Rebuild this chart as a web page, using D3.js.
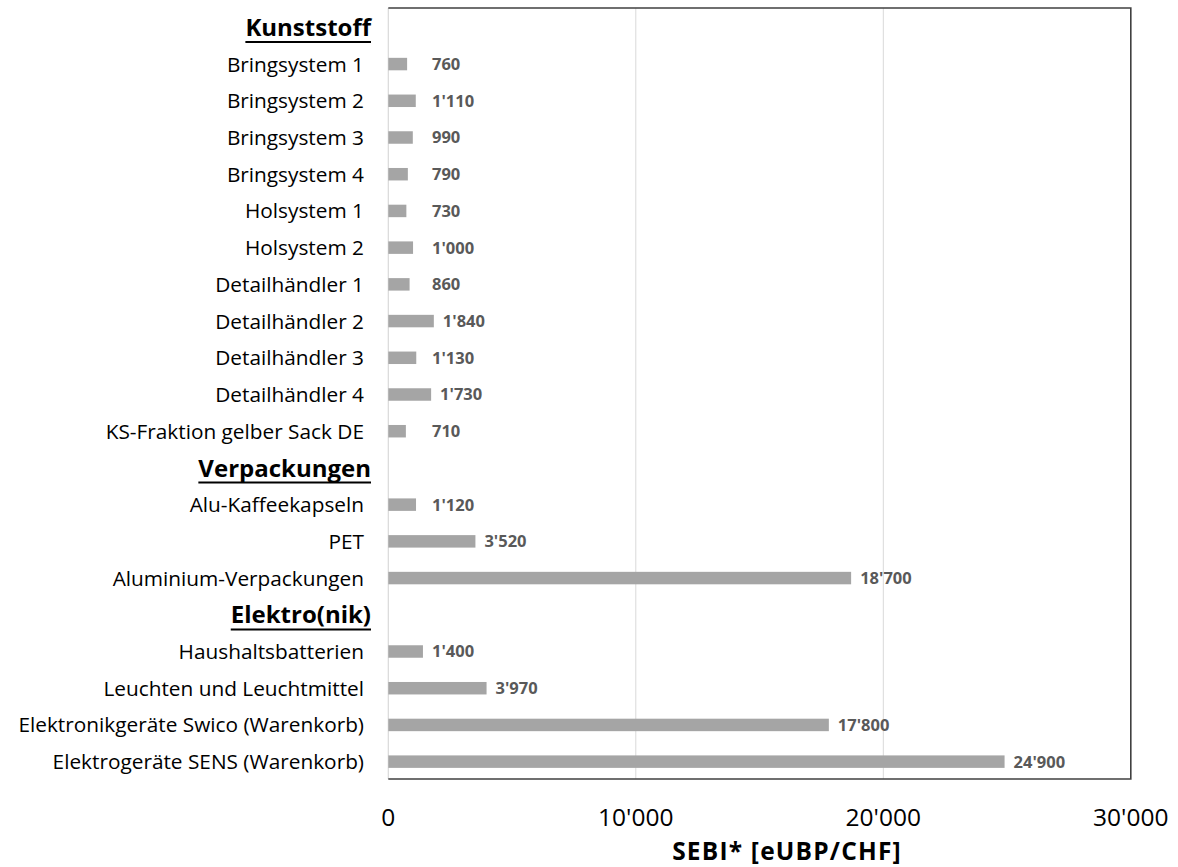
<!DOCTYPE html>
<html>
<head>
<meta charset="utf-8">
<script src="https://cdn.jsdelivr.net/npm/d3@7"></script>
<style>
  html, body { margin: 0; padding: 0; background: #fff; }
  svg { display: block; }
</style>
</head>
<body>
<svg id="chart" width="1178" height="867"></svg>
<script>
const categories = [
  "Kunststoff",
  "Bringsystem 1", "Bringsystem 2", "Bringsystem 3", "Bringsystem 4",
  "Holsystem 1", "Holsystem 2",
  "Detailhändler 1", "Detailhändler 2", "Detailhändler 3", "Detailhändler 4",
  "KS-Fraktion gelber Sack DE",
  "Verpackungen",
  "Alu-Kaffeekapseln", "PET", "Aluminium-Verpackungen",
  "Elektro(nik)",
  "Haushaltsbatterien", "Leuchten und Leuchtmittel",
  "Elektronikgeräte Swico (Warenkorb)", "Elektrogeräte SENS (Warenkorb)"
];
const values = [
  null,
  760, 1110, 990, 790,
  730, 1000,
  860, 1840, 1130, 1730,
  710,
  null,
  1120, 3520, 18700,
  null,
  1400, 3970, 17800, 24900
];
const groupHeaders = ["Kunststoff", "Verpackungen", "Elektro(nik)"];
const xTickValues = [0, 10000, 20000, 30000];
const xTitle = "SEBI* [eUBP/CHF]";

const svg = d3.select("#chart");
const mLeft = 388.3, mRight = 1130.8, mTop = 9, mBottom = 780;
const FONT = "'Open Sans', sans-serif";

const x = d3.scaleLinear().domain([0, 30000]).range([mLeft, mRight]);
const y = d3.scaleBand().domain(categories).range([mTop, mBottom]);
const fmt = v => d3.format(",")(v).replace(/,/g, "'");

// gridlines
svg.append("g").selectAll("line").data(xTickValues.filter(d => d > 0 && d < 30000))
  .join("line")
  .attr("x1", d => x(d)).attr("x2", d => x(d))
  .attr("y1", mTop - 1).attr("y2", mBottom - 1)
  .attr("stroke", "#d9d9d9").attr("stroke-width", 1);

// left axis line (light)
svg.append("line")
  .attr("x1", mLeft).attr("x2", mLeft).attr("y1", mTop - 1).attr("y2", mBottom - 1)
  .attr("stroke", "#d9d9d9").attr("stroke-width", 1.2);

// frame top/right/bottom
svg.append("path")
  .attr("d", `M${mLeft},${mTop - 1}H${mRight}V${mBottom - 1}H${mLeft}`)
  .attr("fill", "none").attr("stroke", "#404040").attr("stroke-width", 1.6);

// bars
const rows = categories.map((c, i) => ({ c, v: values[i] })).filter(d => d.v != null);
const bh = y.bandwidth() * 0.34;
svg.append("g").selectAll("rect").data(rows).join("rect")
  .attr("x", x(0))
  .attr("y", d => y(d.c) + y.bandwidth() / 2 - bh / 2)
  .attr("width", d => x(d.v) - x(0))
  .attr("height", bh)
  .attr("fill", "#a5a5a5");

// data labels
svg.append("g").selectAll("text").data(rows).join("text")
  .attr("x", d => Math.max(x(d.v) + 9, 432))
  .attr("y", d => y(d.c) + y.bandwidth() / 2)
  .attr("dy", "0.36em")
  .attr("font-family", FONT).attr("font-weight", "bold").attr("font-size", 16.5)
  .attr("fill", "#595959")
  .text(d => fmt(d.v));

// category labels
const catG = svg.append("g");
categories.forEach(c => {
  const isH = groupHeaders.includes(c);
  const fs = isH ? 24 : 20.8;
  const t = catG.append("text")
    .attr("x", isH ? 371 : 364)
    .attr("y", y(c) + y.bandwidth() / 2)
    .attr("dy", "0.36em")
    .attr("text-anchor", "end")
    .attr("font-family", FONT)
    .attr("font-size", fs)
    .attr("font-weight", isH ? "bold" : "normal")
    .attr("fill", "#000")
    .text(c);
  if (isH) {
    const w = t.node().getComputedTextLength();
    const by = y(c) + y.bandwidth() / 2 + fs * 0.36 + 6;
    catG.append("line")
      .attr("x1", 371 - w).attr("x2", 371)
      .attr("y1", by).attr("y2", by)
      .attr("stroke", "#000").attr("stroke-width", 2);
  }
});

// x tick labels
svg.append("g").selectAll("text").data(xTickValues).join("text")
  .attr("x", d => x(d)).attr("y", 826)
  .attr("text-anchor", "middle")
  .attr("font-family", FONT).attr("font-size", 24.5)
  .attr("fill", "#000")
  .text(d => fmt(d));

// axis title
svg.append("text")
  .attr("x", 787).attr("y", 860)
  .attr("text-anchor", "middle")
  .attr("font-family", FONT).attr("font-weight", "bold").attr("font-size", 24.5)
  .attr("letter-spacing", 1.2)
  .attr("fill", "#000")
  .text(xTitle);
</script>
</body>
</html>
